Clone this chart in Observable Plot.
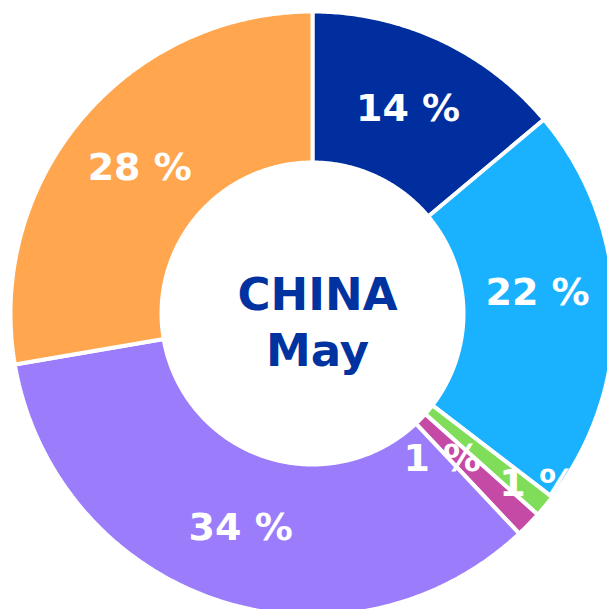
<!DOCTYPE html>
<html><head><meta charset="utf-8">
<script src="https://cdn.jsdelivr.net/npm/d3@7"></script>
<script src="https://cdn.jsdelivr.net/npm/@observablehq/plot@0.6"></script>
<style>body{margin:0;background:#fff;overflow:hidden;} svg{display:block;}</style>
</head><body><div id="chart"></div>
<script>
// Data (clockwise from 12 o'clock)
const segments = ["S1", "S2", "S3", "S4", "S5", "S6"];
const shares = [13.9, 21.5, 1.2, 1.4, 34.3, 27.7];
const shareLabels = ["14 %", "22 %", "1 %", "1 %", "34 %", "28 %"];
const colors = ["#002E9F", "#1AB2FF", "#80DD5A", "#C54AA6", "#9B7DFB", "#FFA64F"];
const centerLines = ["CHINA", "May"];

const R_OUT = 302, R_IN = 151, R_LBL = 226;
const DEG = Math.PI / 180;
const total = d3.sum(shares);
const poly = [];
const lbl = [];
let acc = 0;
shares.forEach((v, i) => {
  const a0 = acc / total * 2 * Math.PI;
  acc += v;
  const a1 = acc / total * 2 * Math.PI;
  const n = Math.max(4, Math.ceil((a1 - a0) / (DEG / 2)));
  for (let k = 0; k <= n; k++) {
    const a = a0 + (a1 - a0) * k / n;
    poly.push({seg: segments[i], x: R_OUT * Math.sin(a), y: R_OUT * Math.cos(a)});
  }
  for (let k = n; k >= 0; k--) {
    const a = a0 + (a1 - a0) * k / n;
    poly.push({seg: segments[i], x: R_IN * Math.sin(a), y: R_IN * Math.cos(a)});
  }
  let am = (a0 + a1) / 2, r = R_LBL;
  if (v < 5) {
    // tiny slices: labels pushed apart (outer / inner)
    if (i % 2 === 0) { r = 283; am -= 2.5 * DEG; }
    else { r = 195; am += 4 * DEG; }
  } else if (Math.abs(am - Math.PI / 2) < 10 * DEG) {
    am -= 4 * DEG; // label near 3 o'clock sits slightly higher
  }
  lbl.push({text: shareLabels[i], x: r * Math.sin(am), y: r * Math.cos(am)});
});

const chart = Plot.plot({
  width: 607, height: 609, margin: 0,
  x: {domain: [-312, 295], axis: null},
  y: {domain: [-296, 313], axis: null},
  color: {domain: segments, range: colors},
  style: {background: "white"},
  marks: [
    Plot.line(poly, {x: "x", y: "y", z: "seg", fill: "seg", stroke: "white", strokeWidth: 4, strokeLinejoin: "miter", curve: "linear-closed"}),
    Plot.text(lbl, {x: "x", y: "y", text: "text", fill: "white", fontSize: 38, fontWeight: "bold", fontFamily: "DejaVu Sans"}),
    Plot.text([centerLines[0]], {x: () => 5, y: () => 18, text: d => d, fill: "#0033A0", fontSize: 45, fontWeight: "bold", fontFamily: "DejaVu Sans"}),
    Plot.text([centerLines[1]], {x: () => 5, y: () => -38, text: d => d, fill: "#0033A0", fontSize: 45, fontWeight: "bold", fontFamily: "DejaVu Sans"})
  ]
});
document.getElementById("chart").appendChild(chart);
</script>
</body></html>
